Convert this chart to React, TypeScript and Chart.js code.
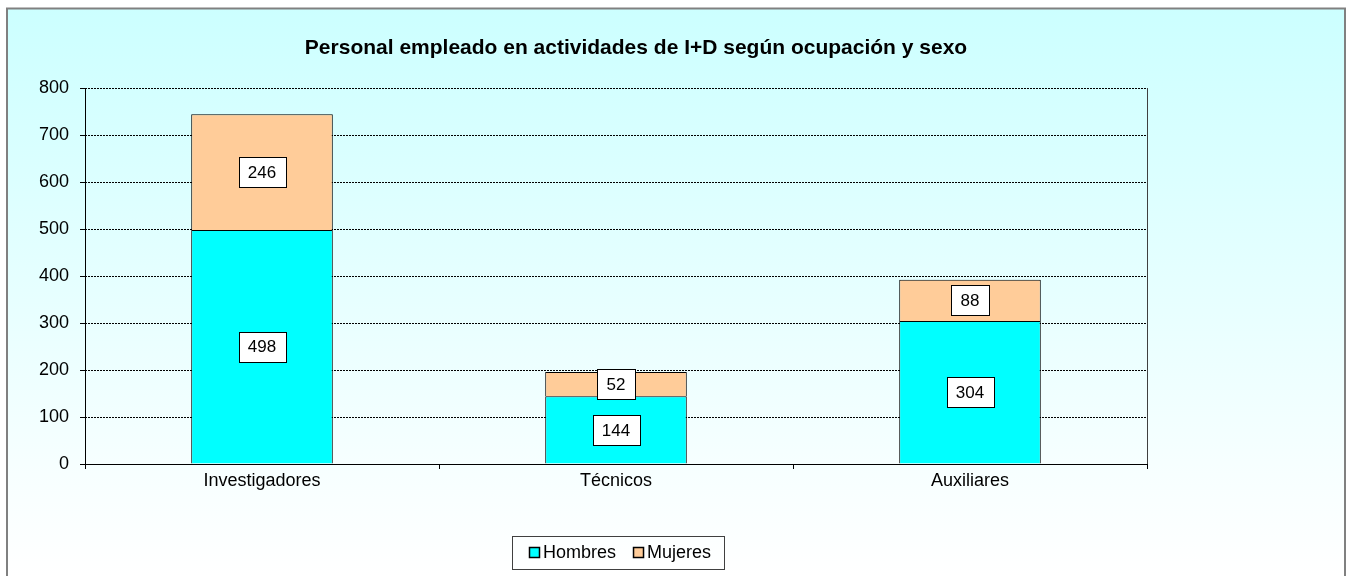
import React, { useEffect, useRef } from "react";
import { Chart, registerables } from "chart.js";

Chart.register(...registerables);

const categories = ["Investigadores", "Técnicos", "Auxiliares"];
const hombres = [498, 144, 304];
const mujeres = [246, 52, 88];
const seriesNames = ["Hombres", "Mujeres"];
const seriesColors = ["#00FFFF", "#FFCC99"];
const titleText = "Personal empleado en actividades de I+D según ocupación y sexo";
const yMin = 0;
const yMax = 800;
const yStep = 100;

const W = 1346;
const H = 576;
const FONT = "Arial, 'Liberation Sans', sans-serif";

const decorPlugin = {
  id: "decor",
  beforeDraw(chart: any) {
    const ctx = chart.ctx;
    ctx.save();
    const g = ctx.createLinearGradient(0, 8, 0, H);
    g.addColorStop(0, "#CCFFFF");
    g.addColorStop(0.8, "#F6FFFF");
    g.addColorStop(1, "#FFFFFF");
    ctx.fillStyle = g;
    ctx.fillRect(7, 8, W - 8, H - 8);
    ctx.restore();
  },
  afterDraw(chart: any) {
    const ctx = chart.ctx;
    const a = chart.chartArea;
    const yScale = chart.scales.y;
    const xScale = chart.scales.x;
    ctx.save();
    // frame
    ctx.strokeStyle = "#808080";
    ctx.lineWidth = 2;
    ctx.strokeRect(7, 8.5, W - 8, H + 4);
    // axes lines
    ctx.strokeStyle = "#000";
    ctx.lineWidth = 1;
    ctx.beginPath();
    ctx.moveTo(Math.round(a.left) + 0.5, a.top);
    ctx.lineTo(Math.round(a.left) + 0.5, a.bottom);
    ctx.moveTo(a.left, Math.round(a.bottom) + 0.5);
    ctx.lineTo(a.right, Math.round(a.bottom) + 0.5);
    ctx.stroke();
    ctx.strokeStyle = "#404040";
    ctx.beginPath();
    ctx.moveTo(Math.round(a.right) + 0.5, a.top);
    ctx.lineTo(Math.round(a.right) + 0.5, a.bottom + 5);
    ctx.stroke();
    // y ticks
    ctx.strokeStyle = "#000";
    ctx.beginPath();
    for (let v = yMin; v <= yMax; v += yStep) {
      const py = Math.round(yScale.getPixelForValue(v)) + 0.5;
      ctx.moveTo(a.left - 5, py);
      ctx.lineTo(a.left, py);
    }
    // x ticks at category boundaries
    const n = categories.length;
    for (let i = 0; i <= n; i++) {
      const px =
        i < n
          ? xScale.getPixelForValue(i) - (xScale.getPixelForValue(1) - xScale.getPixelForValue(0)) / 2
          : xScale.getPixelForValue(n - 1) + (xScale.getPixelForValue(1) - xScale.getPixelForValue(0)) / 2;
      const rx = Math.round(px) + 0.5;
      ctx.moveTo(rx, a.bottom);
      ctx.lineTo(rx, a.bottom + 5);
    }
    ctx.stroke();

    // data labels
    ctx.font = `17px ${FONT}`;
    ctx.textAlign = "center";
    ctx.textBaseline = "middle";
    chart.data.datasets.forEach((ds: any, di: number) => {
      const meta = chart.getDatasetMeta(di);
      meta.data.forEach((bar: any, i: number) => {
        const label = String(ds.data[i]);
        const cx = bar.x;
        const cy = (bar.y + bar.base) / 2;
        const tw = ctx.measureText(label).width;
        const bw = Math.round(tw + 19);
        const bh = 30;
        const bx = Math.round(cx - bw / 2) + 0.5;
        const by = Math.round(cy - bh / 2) + 0.5;
        ctx.fillStyle = "#FFFFFF";
        ctx.fillRect(bx, by, bw, bh);
        ctx.strokeStyle = "#000";
        ctx.strokeRect(bx, by, bw, bh);
        ctx.fillStyle = "#000";
        ctx.fillText(label, cx, cy + 1);
      });
    });

    // title
    ctx.font = `bold 21px ${FONT}`;
    ctx.fillStyle = "#000";
    ctx.textAlign = "center";
    ctx.textBaseline = "middle";
    ctx.fillText(titleText, 636, 48);

    // legend
    const lx = 512.5, ly = 536.5, lw = 212, lh = 33;
    ctx.strokeStyle = "#404040";
    ctx.lineWidth = 1;
    ctx.strokeRect(lx, ly, lw, lh);
    ctx.font = `18px ${FONT}`;
    ctx.textAlign = "left";
    ctx.textBaseline = "middle";
    let x = 529;
    const cyL = 553;
    seriesNames.forEach((name, i) => {
      ctx.fillStyle = seriesColors[i];
      ctx.fillRect(x + 0.5, cyL - 5.5, 10, 10);
      ctx.strokeStyle = "#000";
      ctx.lineWidth = 1.5;
      ctx.strokeRect(x + 0.5, cyL - 5.5, 10, 10);
      ctx.fillStyle = "#000";
      ctx.fillText(name, x + 14, cyL);
      x += 14 + ctx.measureText(name).width + 17;
    });
    ctx.restore();
  },
};

export default function App() {
  const ref = useRef<HTMLCanvasElement | null>(null);
  useEffect(() => {
    if (!ref.current) return;
    const chart = new Chart(ref.current, {
      type: "bar",
      data: {
        labels: categories,
        datasets: [
          {
            label: seriesNames[0],
            data: hombres,
            backgroundColor: seriesColors[0],
            borderColor: "#000",
            borderWidth: 1,
            categoryPercentage: 1,
            barPercentage: 0.4,
          },
          {
            label: seriesNames[1],
            data: mujeres,
            backgroundColor: seriesColors[1],
            borderColor: "#000",
            borderWidth: 1,
            categoryPercentage: 1,
            barPercentage: 0.4,
          },
        ],
      },
      options: {
        responsive: false,
        animation: false,
        devicePixelRatio: 1,
        layout: { padding: { left: 0, top: 88, right: 199, bottom: 0 } },
        plugins: {
          legend: { display: false },
          title: { display: false },
          tooltip: { enabled: false },
        },
        scales: {
          x: {
            stacked: true,
            grid: { display: false, drawTicks: false },
            border: { display: false },
            ticks: {
              color: "#000",
              font: { family: FONT, size: 18 },
              padding: 6,
              maxRotation: 0,
            },
            afterFit: (axis: any) => {
              axis.height = 112;
            },
          },
          y: {
            stacked: true,
            min: yMin,
            max: yMax,
            grid: { color: "#000", lineWidth: 1, drawTicks: false },
            border: { display: false, dash: [2, 1] },
            ticks: {
              stepSize: yStep,
              color: "#000",
              font: { family: FONT, size: 18 },
              padding: 16,
            },
            afterFit: (axis: any) => {
              axis.width = 85;
            },
          },
        },
      },
      plugins: [decorPlugin],
    });
    return () => chart.destroy();
  }, []);
  return (
    <div style={{ position: "fixed", left: 0, top: 0, width: W, height: H }}>
      <canvas ref={ref} width={W} height={H} style={{ width: W, height: H, display: "block" }} />
    </div>
  );
}
